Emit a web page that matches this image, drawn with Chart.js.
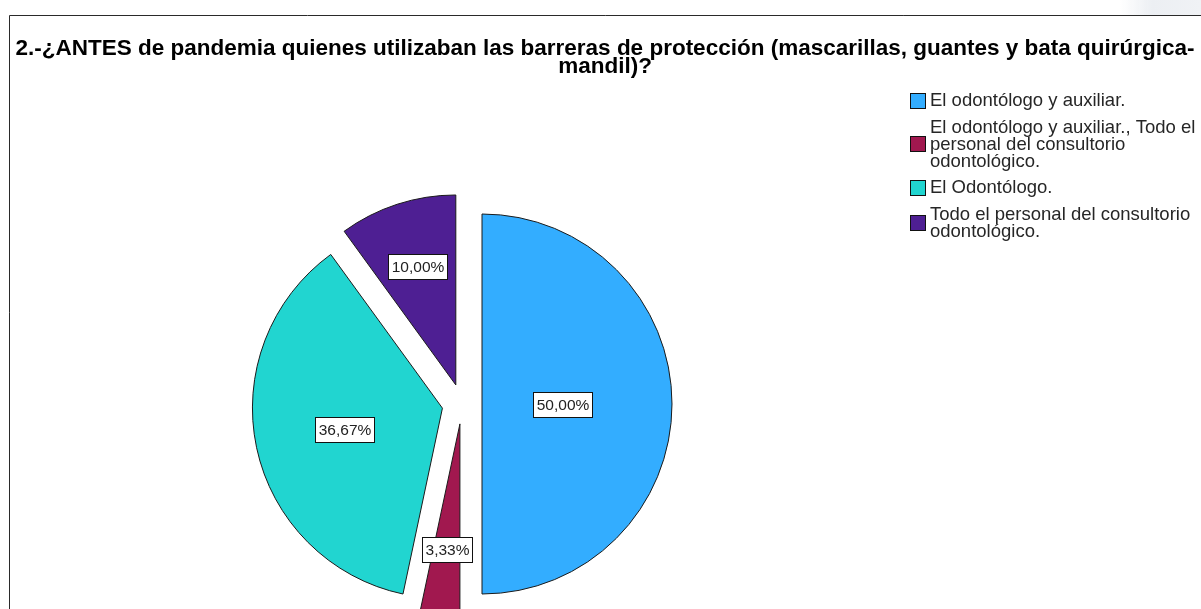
<!DOCTYPE html>
<html>
<head>
<meta charset="utf-8">
<script src="https://cdn.jsdelivr.net/npm/chart.js@4.4.1/dist/chart.umd.min.js"></script>
<style>
html,body{margin:0;padding:0;background:#fff;overflow:hidden}
#wrap{position:relative;width:1201px;height:609px}
canvas{display:block}
</style>
</head>
<body>
<div id="wrap"><canvas id="c" width="1201" height="609"></canvas></div>
<script>
// ---- data ----
const titleLines = [
  "2.-¿ANTES de pandemia quienes utilizaban las barreras de protección (mascarillas, guantes y bata quirúrgica-",
  "mandil)?"
];
const categories = [
  "El odontólogo y auxiliar.",
  "El odontólogo y auxiliar., Todo el personal del consultorio odontológico.",
  "El Odontólogo.",
  "Todo el personal del consultorio odontológico."
];
const legendLines = [
  ["El odontólogo y auxiliar."],
  ["El odontólogo y auxiliar., Todo el", "personal del consultorio", "odontológico."],
  ["El Odontólogo."],
  ["Todo el personal del consultorio", "odontológico."]
];
const percentages = [50.00, 3.33, 36.67, 10.00];
const percentLabels = ["50,00%", "3,33%", "36,67%", "10,00%"];

// ---- styles ----
const sliceColors = ["#33adff", "#a1184f", "#21d5d0", "#4e1f93"];
const EXPLODE = 20;
const FONT = '"Liberation Sans", Arial, sans-serif';

const explodePlugin = {
  id: 'explode',
  afterDatasetsUpdate(chart) {
    chart.getDatasetMeta(0).data.forEach(arc => {
      const mid = (arc.startAngle + arc.endAngle) / 2;
      arc.x += Math.cos(mid) * EXPLODE;
      arc.y += Math.sin(mid) * EXPLODE;
    });
  }
};

const framePlugin = {
  id: 'frame',
  beforeDraw(chart) {
    const ctx = chart.ctx;
    ctx.save();
    const g = ctx.createLinearGradient(1120, 0, 1201, 0);
    g.addColorStop(0, 'rgba(236,239,243,0)');
    g.addColorStop(0.4, 'rgba(236,239,243,1)');
    g.addColorStop(1, 'rgba(240,242,245,1)');
    ctx.fillStyle = g;
    ctx.fillRect(1120, 0, 81, 15);
    ctx.strokeStyle = '#2a2a2a';
    ctx.lineWidth = 1;
    ctx.beginPath();
    ctx.moveTo(9.5, 609);
    ctx.lineTo(9.5, 15.5);
    ctx.lineTo(1201, 15.5);
    ctx.stroke();
    ctx.restore();
  },
  afterDraw(chart) {
    const ctx = chart.ctx;
    ctx.save();
    // title
    ctx.fillStyle = '#000';
    ctx.font = 'bold 22.5px ' + FONT;
    ctx.textAlign = 'center';
    ctx.textBaseline = 'alphabetic';
    titleLines.forEach((t, i) => ctx.fillText(t, 605, 55 + i * 18));
    // legend
    const lineH = 17, itemGap = 9.5;
    let y = 100;
    ctx.font = '18.5px ' + FONT;
    ctx.textAlign = 'left';
    ctx.textBaseline = 'middle';
    legendLines.forEach((lines, i) => {
      const first = y, last = y + (lines.length - 1) * lineH;
      const cy = (first + last) / 2;
      ctx.fillStyle = sliceColors[i];
      ctx.fillRect(910, Math.round(cy - 7.5), 15, 15);
      ctx.strokeStyle = '#111';
      ctx.lineWidth = 1;
      ctx.strokeRect(910.5, Math.round(cy - 7.5) + 0.5, 15, 15);
      ctx.fillStyle = '#262626';
      lines.forEach((l, k) => ctx.fillText(l, 930, y + k * lineH + 1));
      y = last + lineH + itemGap;
    });
    ctx.restore();
  },
  afterDatasetsDraw(chart) {
    const ctx = chart.ctx;
    ctx.save();
    ctx.font = '15.5px ' + FONT;
    ctx.textAlign = 'center';
    ctx.textBaseline = 'middle';
    chart.getDatasetMeta(0).data.forEach((arc, i) => {
      const a = (arc.endAngle - arc.startAngle) / 2;
      const mid = (arc.startAngle + arc.endAngle) / 2;
      const d = 2 * arc.outerRadius * Math.sin(a) / (3 * a);
      const x = arc.x + Math.cos(mid) * d;
      const yy = arc.y + Math.sin(mid) * d;
      const txt = percentLabels[i];
      const w = Math.round(ctx.measureText(txt).width + 6);
      const h = 25;
      const bx = Math.round(x - w / 2), by = Math.round(yy - h / 2);
      ctx.fillStyle = '#fff';
      ctx.fillRect(bx, by, w, h);
      ctx.strokeStyle = '#111';
      ctx.lineWidth = 1;
      ctx.strokeRect(bx + 0.5, by + 0.5, w, h);
      ctx.fillStyle = '#222';
      ctx.fillText(txt, bx + w / 2 + 0.5, by + h / 2 + 1);
    });
    ctx.restore();
  }
};

new Chart(document.getElementById('c'), {
  type: 'pie',
  data: {
    labels: categories,
    datasets: [{
      data: percentages,
      backgroundColor: sliceColors,
      borderColor: '#1b1b1b',
      borderWidth: 1,
      radius: 190
    }]
  },
  options: {
    responsive: false,
    devicePixelRatio: 1,
    animation: false,
    events: [],
    layout: { padding: { left: 0, right: 277, top: 199, bottom: 0 } },
    plugins: {
      legend: { display: false },
      title: { display: false },
      tooltip: { enabled: false }
    }
  },
  plugins: [explodePlugin, framePlugin]
});
</script>
</body>
</html>
